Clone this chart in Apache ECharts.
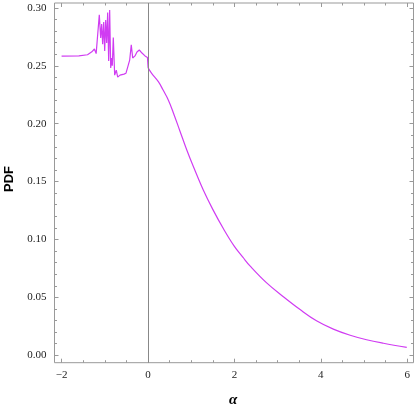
<!DOCTYPE html>
<html>
<head>
<meta charset="utf-8">
<script src="https://cdn.jsdelivr.net/npm/echarts@6/dist/echarts.min.js"></script>
<style>
  html, body { margin: 0; padding: 0; background: #fff; }
  #chart { width: 415px; height: 410px; }
</style>
</head>
<body>
<div id="chart"></div>
<script>
// values
// noisy part, alpha < 0
const alphaNoisy = [-2.0, -1.6, -1.4, -1.3, -1.24, -1.2, -1.17, -1.127, -1.095, -1.072, -1.049, -1.025, -1.002, -0.979, -0.956, -0.933, -0.91, -0.887, -0.863, -0.84, -0.826, -0.803, -0.771, -0.734, -0.701, -0.648, -0.602, -0.556, -0.509, -0.463, -0.424, -0.387, -0.354, -0.301, -0.255, -0.201, -0.139, -0.069, -0.012, -0.002, 0.003]
const pdfNoisy = [0.2584, 0.2586, 0.2595, 0.262, 0.2645, 0.2605, 0.2595, 0.2941, 0.274, 0.286, 0.2686, 0.2877, 0.2628, 0.2896, 0.2697, 0.2959, 0.2541, 0.2982, 0.2481, 0.2567, 0.250, 0.2744, 0.2419, 0.2462, 0.2402, 0.2419, 0.2436, 0.2428, 0.2436, 0.2497, 0.2548, 0.268, 0.2567, 0.2585, 0.2619, 0.2636, 0.261, 0.2585, 0.2572, 0.2565, 0.2482]
// smooth tail, alpha >= 0
const alphaTail = [0.003, 0.085, 0.24, 0.35, 0.47, 0.586, 0.741, 0.896, 1.05, 1.28, 1.5, 1.75, 2.0, 2.2, 2.361, 2.747, 3.133, 3.52, 3.9, 4.29, 4.68, 5.06, 5.45, 5.99]
const pdfTail = [0.2482, 0.2435, 0.2363, 0.229, 0.2205, 0.2095, 0.1935, 0.1775, 0.163, 0.1427, 0.126, 0.109, 0.094, 0.0845, 0.0772, 0.0625, 0.0506, 0.0395, 0.0298, 0.0226, 0.0173, 0.0134, 0.0104, 0.0069]

const xLabels = [-2, 0, 2, 4, 6]
const xMinor = [-1.5, -1, -0.5, 0.5, 1, 1.5, 2.5, 3, 3.5, 4.5, 5, 5.5]
const yLabels = [0, 0.05, 0.10, 0.15, 0.20, 0.25, 0.30]
const yMinor = [0.01, 0.02, 0.03, 0.04, 0.06, 0.07, 0.08, 0.09, 0.11, 0.12, 0.13, 0.14, 0.16, 0.17, 0.18, 0.19, 0.21, 0.22, 0.23, 0.24, 0.26, 0.27, 0.28, 0.29]

const xMin = -2.164
const xMax = 6.146
const yMin = -0.0064
const yMax = 0.3042

let frameColor = '#999'
let lineColor = '#d03cf2'
let labelFont = { color: '#222', fontFamily: 'Liberation Serif', fontSize: 11 }

function xAxisOf (position, ticks, len, showLabel) {
  return {
    type: 'value',
    position: position,
    min: xMin,
    max: xMax,
    axisLine: { show: false, onZero: false },
    splitLine: { show: false },
    axisTick: { show: true, inside: true, length: len, customValues: ticks, lineStyle: { color: frameColor } },
    axisLabel: showLabel ? Object.assign({
      show: true,
      margin: 7,
      customValues: ticks,
      formatter: v => (v < 0 ? '\u2212' + Math.abs(v) : '' + v)
    }, labelFont) : { show: false }
  }
}

function yAxisOf (position, ticks, len, showLabel) {
  return {
    type: 'value',
    position: position,
    min: yMin,
    max: yMax,
    axisLine: { show: false, onZero: false },
    splitLine: { show: false },
    axisTick: { show: true, inside: true, length: len, customValues: ticks, lineStyle: { color: frameColor } },
    axisLabel: showLabel ? Object.assign({
      show: true,
      margin: 8,
      customValues: ticks,
      formatter: v => v.toFixed(2)
    }, labelFont) : { show: false }
  }
}

let chart = echarts.init(document.getElementById('chart'))
let option = {
  animation: false,
  grid: {
    left: 54.5,
    right: 1.5,
    top: 3,
    bottom: 47.3,
    show: true,
    borderColor: frameColor,
    borderWidth: 1,
    backgroundColor: 'transparent'
  },
  xAxis: [
    xAxisOf('bottom', xLabels, 4, true),
    xAxisOf('bottom', xMinor, 2.5, false),
    xAxisOf('top', xLabels, 4, false),
    xAxisOf('top', xMinor, 2.5, false)
  ],
  yAxis: [
    yAxisOf('left', yLabels, 4, true),
    yAxisOf('left', yMinor, 2.5, false),
    yAxisOf('right', yLabels, 4, false),
    yAxisOf('right', yMinor, 2.5, false)
  ],
  graphic: [
    {
      type: 'text',
      left: 3,
      top: 166,
      rotation: Math.PI / 2,
      style: { text: 'PDF', fill: '#000', font: 'bold 13px "Liberation Sans"' },
      originX: 0, originY: 0
    },
    {
      type: 'text',
      left: 229,
      top: 393,
      style: { text: '\u03b1', fill: '#000', font: 'italic bold 15px "Liberation Serif"' }
    }
  ],
  series: [
    {
      type: 'line',
      data: alphaNoisy.map((a, i) => [a, pdfNoisy[i]]),
      symbol: 'none',
      lineStyle: { color: lineColor, width: 1.2 },
      markLine: {
        silent: true,
        symbol: 'none',
        label: { show: false },
        lineStyle: { color: '#888', type: 'solid', width: 1 },
        data: [{ xAxis: 0 }]
      }
    },
    {
      type: 'line',
      data: alphaTail.map((a, i) => [a, pdfTail[i]]),
      symbol: 'none',
      smooth: 0.4,
      lineStyle: { color: lineColor, width: 1.2 }
    }
  ]
}
chart.setOption(option)
</script>
</body>
</html>
